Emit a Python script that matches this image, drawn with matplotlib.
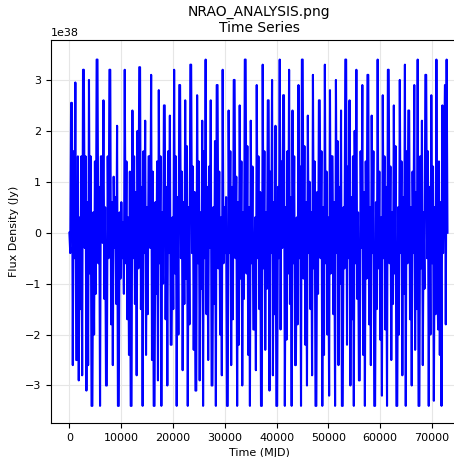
import numpy as np
import matplotlib
matplotlib.use("Agg")
import matplotlib.pyplot as plt

title_text = "NRAO_ANALYSIS.png\nTime Series"
x_label = "Time (MJD)"
y_label = "Flux Density (Jy)"
t_start = 0.0
t_end = 73000.0

# flux values in units of 1e38 Jy
flux_e38 = [
    0.0, -0.4, 2.55, 2.55, -2.6, 1.6, -0.5, 2.95, -2.5, -2.5, 1.5, -2.9,
    0.3, -1.5, 1.5, -2.8, 3.2, 3.2, -0.3, 1.5, -3.1, 0.6, -2.6,
    3.0, -0.8, 1.5, -3.4, -3.4, 0.4, -2.0, 1.4, -1.2, 3.4, 3.4, -0.6,
    0.9, -3.4, 1.5, 1.5, -0.2, 2.6, -1.3, 0.5, -3.0, -3.0, 1.5, -0.5,
    3.2, 3.2, -1.8, 0.6, -2.6, 1.1, -0.3, 0.7, -1.4, 2.1, -3.4, -3.4,
    0.4, -0.9, 0.6, -0.5, 0.2, -1.2, 3.2, -0.6, 1.4, -1.7,
    0.3, -2.4, 1.2, -3.4, -3.4, 2.4, -0.5, 1.5, -1.4, 0.8, -2.8,
    2.0, -0.7, 3.25, 3.25, -1.5, 0.9, -3.4, 1.6, -0.4, 2.2, -2.4,
    0.5, -1.6, 1.5, 1.5, -0.3, 3.1, -2.5, 1.2, -3.4, -3.4, 0.6, -1.2,
    1.4, -2.9, 2.8, -0.6, 1.5, -3.4, 0.4, -1.0, 2.5, 2.5, -1.7,
    0.9, -3.0, 1.6, -0.4, 2.3, -2.2, -2.2, 0.3, -1.5, 3.2, -0.8,
    1.5, -3.4, 0.7, -2.0, 2.9, 2.9, -0.5, 1.2, -2.7, 0.6, -1.4,
    2.6, -0.9, 1.7, -3.4, 0.5, -1.8, 3.3, 3.3, -0.4, 1.3, -2.3,
    0.8, -3.1, -3.1, 2.7, -0.6, 1.4, -2.9, 0.4, -1.1, 2.2, -3.4,
    1.6, -0.5, 3.4, -1.6, 0.9, -2.5, 1.3, -0.3, 2.6, -3.0, -3.0,
    0.5, -1.4, 1.8, -3.4, 2.9, 2.9, -0.7, 1.2, -2.0, 0.3, -2.8,
    3.2, -0.6, 0.5, -0.4, 0.7, -3.4, -3.4, 2.4, -0.4, 1.6, -2.6,
    0.9, -1.7, 3.0, 3.0, -0.5, 1.1, -3.4, 0.6, -2.2, 2.5, -0.9,
    1.4, -3.0, 0.4, -1.3, 3.4, 3.4, -0.8, 1.7, -2.4, 0.5, -3.4,
    2.2, -0.6, 1.3, -1.9, -1.9, 0.3, -2.7, 2.9, -0.5, 1.5, -1.5,
    0.8, -3.4, -3.4, 3.3, -0.7, 1.6, -2.3, 0.4, -1.1, 2.6, 2.6, -3.1,
    1.2, -0.4, 3.0, -2.8, 0.6, -1.6, 2.1, -3.4, -3.4, 0.9, -0.5,
    3.4, -1.9, 1.4, -0.3, 2.7, 2.7, -3.4, 0.5, -2.1, 1.6, -0.8,
    3.2, -1.4, 0.7, -3.4, 2.4, -0.6, 1.5, -2.6, -2.6, 0.3, -1.8,
    2.9, -0.5, 1.3, -3.4, 3.4, 3.4, -0.9, 1.7, -2.2, 0.6, -3.0,
    2.3, -0.4, 1.0, -1.5, 0.4, -2.8, 3.1, -0.7, 1.4, -3.4, -3.4,
    0.8, -1.2, 2.6, 2.6, -0.5, 1.6, -3.4, 0.5, -2.4, 3.3, -0.6,
    1.2, -2.0, 0.3, -3.2, 2.8, -0.8, 1.5, 1.5, -1.6, 0.6, -3.4,
    3.0, -0.4, 1.8, -2.6, 0.9, -1.0, 2.4, -3.4, -3.4, 0.5, -0.7,
    3.4, 3.4, -2.2, 1.3, -0.5, 2.6, -3.0, 0.7, -1.7, 1.5, -3.4,
    2.0, -0.6, 3.2, -1.3, 0.4, -2.9, -2.9, 1.6, -0.3, 2.9, -2.4,
    0.8, -3.4, 1.4, -0.9, 3.1, 3.1, -1.8, 0.5, -2.6, 2.3, -0.4,
    1.6, -3.4, -3.4, 0.6, -1.5, 3.4, -0.7, 1.2, -2.1, 0.3, -3.2,
    2.7, -0.5, 1.5, -1.9, 0.9, -3.4, 3.2, 3.2, -0.6, 1.3, -2.5,
    0.4, -1.4, 2.5, -0.8, 1.7, -3.4, -3.4, 0.5, -2.0, 3.0, -0.4,
    1.4, -2.8, 0.7, -1.2, 3.3, -3.4, 1.6, -0.6, 2.4, 2.4, -1.7,
    0.5, -3.0, 1.2, -0.4, 2.9, -2.3, 0.8, -1.5, 3.4, -3.4, -3.4,
    1.5, -0.7, 2.2, -2.6, 0.4, -1.1, 3.1, 3.1, -0.5, 1.6, -3.4,
    0.9, -2.0, 2.7, -0.6, 1.3, -3.3, 0.5, -1.6, 3.4, -0.8, -1.9,
    1.4, -2.4, 0.6, -3.4, 2.5, -0.4, 1.2, 2.9, -1.8, 3.4, 0.0,
]

flux = np.array(flux_e38) * 1e38
t = np.linspace(t_start, t_end, len(flux))

fig = plt.figure(figsize=(4.54, 4.57), dpi=100)
ax = fig.add_axes([0.112, 0.074, 0.917, 0.838])
ax.plot(t, flux, color="blue", linewidth=1.5)
ax.set_xlim(-3580, 76800)
ax.set_ylim(-3.74e38, 3.78e38)
ax.set_xticks([0, 10000, 20000, 30000, 40000, 50000, 60000, 70000])
ax.set_yticks(np.arange(-3, 4) * 1e38)
ax.grid(True, color="#e6e6e6", linewidth=0.8)
ax.set_axisbelow(True)
ax.set_title(title_text, fontsize=10)
ax.set_xlabel(x_label, fontsize=8)
ax.set_ylabel(y_label, fontsize=8)
ax.tick_params(labelsize=8)
ax.yaxis.get_offset_text().set_fontsize(8)
fig.savefig("out.png", dpi=100)
